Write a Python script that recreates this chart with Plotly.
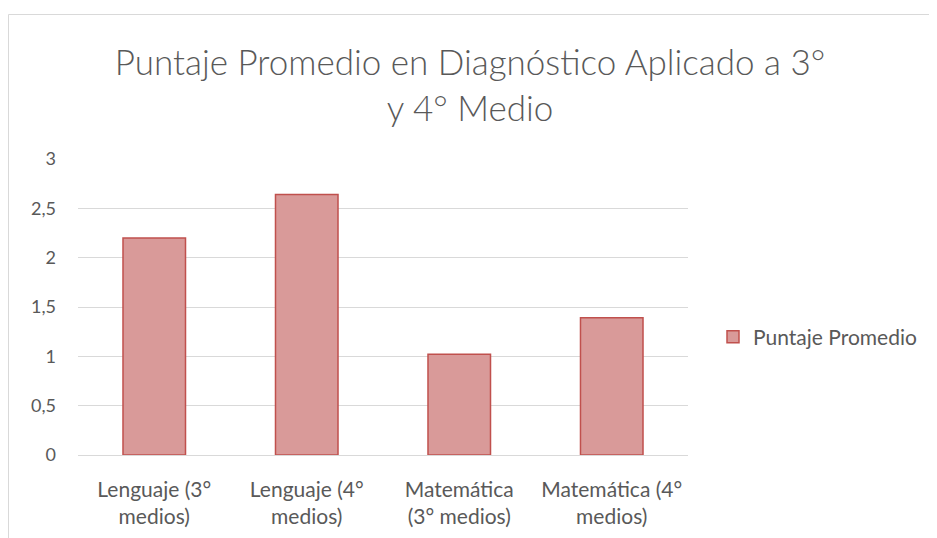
import plotly.graph_objects as go

categories = ["Lenguaje (3°<br>medios)", "Lenguaje (4°<br>medios)", "Matemática<br>(3° medios)", "Matemática (4°<br>medios)"]
values = [2.20, 2.64, 1.02, 1.39]
series_name = "Puntaje Promedio"
title_text = "Puntaje Promedio en Diagnóstico Aplicado a 3°<br>y 4° Medio"

# page body has an 8px margin; work in screen pixels and subtract it
OFF = 8
W, H = 937 - OFF, 538 - OFF
L, R, T, B = 78 - OFF, 688 - OFF, 159 - OFF, 455 - OFF

FONT = "Lato"
GRAY = "#595959"

fig = go.Figure()
fig.add_trace(go.Bar(
    x=categories, y=values, name=series_name, width=0.41,
    marker=dict(color="#D99A99", line=dict(color="#C0504D", width=1.5)),
    showlegend=True,
))

def px_x(p):
    return (p - OFF - L) / (R - L)

def px_y(p):
    return (B - (p - OFF)) / (B - T)

fig.update_layout(
    width=W, height=H,
    margin=dict(l=L, r=W - R, t=T, b=H - B, pad=0, autoexpand=False),
    paper_bgcolor="white", plot_bgcolor="white",
    separators=",.",
    font=dict(family=FONT, color=GRAY, size=18),
    title=dict(text=title_text, x=(470 - OFF) / W, xref="container", xanchor="center",
               y=1 - (75 - OFF) / H, yanchor="middle",
               font=dict(family=FONT, size=35, color=GRAY, weight=300)),
    xaxis=dict(showgrid=False, showline=False, ticks="", ticklabelstandoff=20, automargin=False,
               tickfont=dict(size=21, color=GRAY)),
    yaxis=dict(range=[0, 3], dtick=0.5, showgrid=True, gridcolor="#D9D9D9", gridwidth=1,
               zeroline=True, zerolinecolor="#D9D9D9", zerolinewidth=1, automargin=False,
               showline=False, ticks="", ticklabelstandoff=21, tickfont=dict(size=18, color=GRAY)),
    legend=dict(x=px_x(713), y=px_y(337), xanchor="left", yanchor="middle",
                font=dict(size=21, color=GRAY), bgcolor="rgba(0,0,0,0)"),
    shapes=[dict(type="rect", xref="paper", yref="paper",
                 x0=px_x(8.5), x1=px_x(950), y0=px_y(560), y1=px_y(14.5),
                 line=dict(color="#D9D9D9", width=1), fillcolor="rgba(0,0,0,0)", layer="below")],
)

fig.write_html("out.html")
